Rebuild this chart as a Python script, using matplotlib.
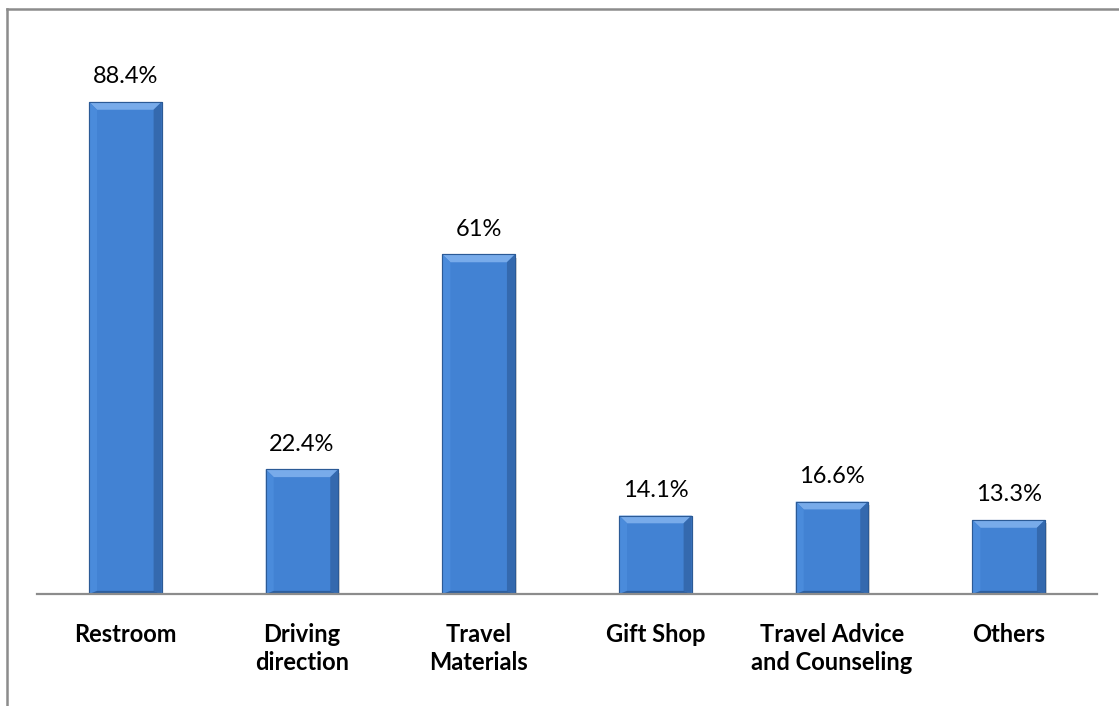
import matplotlib.pyplot as plt
from matplotlib.patches import Polygon, Rectangle
from matplotlib.lines import Line2D

categories = ["Restroom", "Driving\ndirection", "Travel\nMaterials", "Gift Shop",
              "Travel Advice\nand Counseling", "Others"]
values = [88.4, 22.4, 61, 14.1, 16.6, 13.3]
value_labels = ["88.4%", "22.4%", "61%", "14.1%", "16.6%", "13.3%"]

plt.rcParams["font.family"] = ["Lato", "DejaVu Sans"]

fig = plt.figure(figsize=(11.19, 7.06), dpi=100)
ax = fig.add_axes([37 / 1119, 112 / 706, 1060 / 1119, 556.6 / 706])

x = list(range(len(categories)))
width = 0.41
ax.set_xlim(-0.5, len(categories) - 0.5)
ax.set_ylim(0, 100)

# soft shadow under each bar
for xi, v in zip(x, values):
    ax.add_patch(Rectangle((xi - width / 2 + 0.01, -0.6), width, v, color="#b0b0b0",
                           alpha=0.5, lw=0, zorder=1))

bars = ax.bar(x, values, width=width, color="#4282d3", edgecolor="#2b5a96",
              linewidth=0.8, zorder=2)

# bevelled edges on each bar
bx = 0.045
by = 1.4
for xi, v in zip(x, values):
    l, r = xi - width / 2, xi + width / 2
    faces = [
        ([(l, v), (r, v), (r - bx, v - by), (l + bx, v - by)], "#78abea"),
        ([(l, 0), (l + bx, by * 0.4), (l + bx, v - by), (l, v)], "#4a8bdb"),
        ([(r, 0), (r - bx, by * 0.4), (r - bx, v - by), (r, v)], "#3469ae"),
        ([(l, 0), (r, 0), (r - bx, by * 0.4), (l + bx, by * 0.4)], "#2d5f9f"),
    ]
    for pts, c in faces:
        ax.add_patch(Polygon(pts, closed=True, color=c, lw=0, zorder=3))
    ax.add_patch(Rectangle((l, 0), width, v, fill=False, edgecolor="#2b5a96",
                           lw=0.8, zorder=4))

for xi, v, lab in zip(x, values, value_labels):
    ax.annotate(lab, (xi, v), xytext=(0, 13.5), textcoords="offset points",
                ha="center", va="baseline", fontsize=17, color="#000000")

ax.set_xticks(x)
ax.set_xticklabels(categories, fontsize=17, fontweight="bold", linespacing=1.25)
ax.tick_params(axis="x", length=0, pad=21)
ax.set_yticks([])
for side in ["top", "right", "left"]:
    ax.spines[side].set_visible(False)
ax.spines["bottom"].set_color("#8c8c8c")
ax.spines["bottom"].set_linewidth(1.6)
ax.spines["bottom"].set_zorder(5)

# outer chart frame
fig.add_artist(Line2D([7 / 1119, 7 / 1119], [0, 1 - 9 / 706], color="#8c8c8c", lw=1.8,
                      transform=fig.transFigure))
fig.add_artist(Line2D([7 / 1119, 1], [1 - 9 / 706, 1 - 9 / 706], color="#8c8c8c", lw=1.8,
                      transform=fig.transFigure))

fig.savefig("out.png", dpi=100)
